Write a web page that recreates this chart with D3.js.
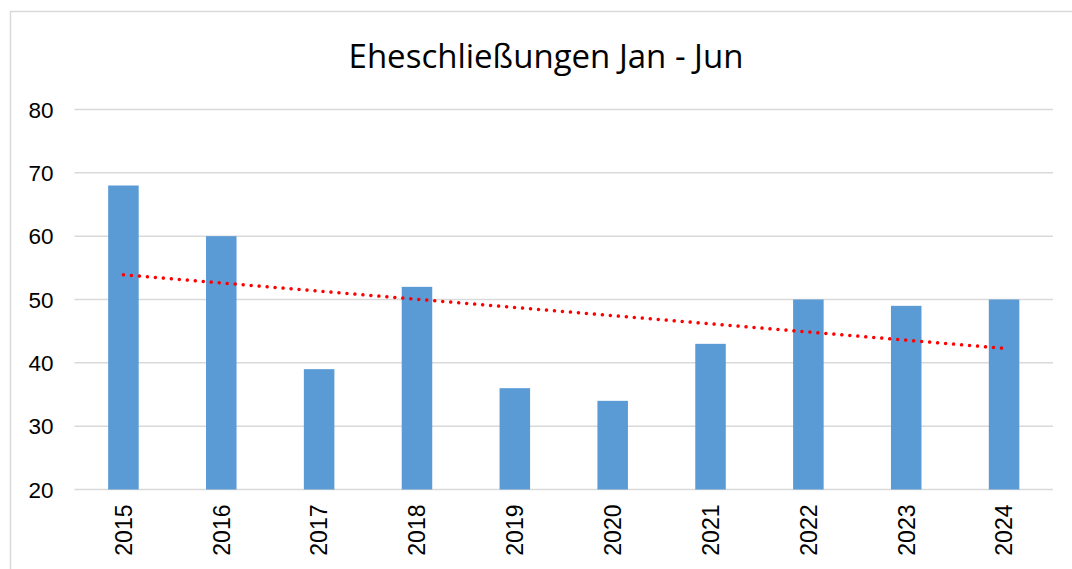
<!DOCTYPE html>
<meta charset="utf-8">
<script src="https://cdnjs.cloudflare.com/ajax/libs/d3/7.8.5/d3.min.js"></script>
<style>
  body { margin: 0; background: #fff; }
</style>
<div id="chart"></div>
<script>
  // data
  const years = ['2015', '2016', '2017', '2018', '2019', '2020', '2021', '2022', '2023', '2024']
  const values = [68, 60, 39, 52, 36, 34, 43, 50, 49, 50]
  const yTicks = [20, 30, 40, 50, 60, 70, 80]
  const title = 'Eheschließungen Jan - Jun'

  const W = 1072, H = 569
  const margin = { top: 109.5, right: 19, bottom: 79.5, left: 74.5 }
  const width = W - margin.left - margin.right
  const height = H - margin.top - margin.bottom

  const svg = d3.select('#chart').append('svg')
    .attr('width', W)
    .attr('height', H)

  // chart area border
  svg.append('rect')
    .attr('x', 10.5).attr('y', 11.5)
    .attr('width', W).attr('height', H)
    .attr('fill', 'none')
    .attr('stroke', '#d9d9d9')
    .attr('stroke-width', 1.5)

  svg.append('text')
    .attr('x', 546).attr('y', 68)
    .attr('text-anchor', 'middle')
    .attr('font-family', 'Open Sans, sans-serif')
    .attr('font-size', 33)
    .attr('fill', '#000')
    .text(title)

  const g = svg.append('g').attr('transform', 'translate(' + margin.left + ',' + margin.top + ')')

  const x = d3.scaleBand().domain(years).range([0, width]).paddingInner(0.688).paddingOuter(0.344)
  const y = d3.scaleLinear().domain([20, 80]).range([height, 0])

  // gridlines
  g.selectAll('.grid').data(yTicks).join('line')
    .attr('x1', 0).attr('x2', width)
    .attr('y1', d => y(d)).attr('y2', d => y(d))
    .attr('stroke', '#d9d9d9')
    .attr('stroke-width', 1.5)

  // y labels
  g.selectAll('.ylab').data(yTicks).join('text')
    .attr('x', -21).attr('y', d => y(d))
    .attr('dy', '0.36em')
    .attr('text-anchor', 'end')
    .attr('font-family', 'Liberation Sans, Arial, sans-serif')
    .attr('font-size', 22.5)
    .attr('fill', '#000')
    .text(d => d)

  // bars
  g.selectAll('.bar').data(values).join('rect')
    .attr('x', (d, i) => x(years[i]))
    .attr('width', x.bandwidth())
    .attr('y', d => y(d))
    .attr('height', d => y(20) - y(d))
    .attr('fill', '#5b9bd5')

  // x labels, rotated
  g.selectAll('.xlab').data(years).join('text')
    .attr('transform', d => 'translate(' + (x(d) + x.bandwidth() / 2) + ',' + (height + 15) + ') rotate(-90)')
    .attr('dy', '0.36em')
    .attr('text-anchor', 'end')
    .attr('font-family', 'Liberation Sans, Arial, sans-serif')
    .attr('font-size', 23)
    .attr('fill', '#000')
    .text(d => d)

  // linear trendline (least squares over category index)
  const n = values.length
  const mx = d3.mean(d3.range(n)), my = d3.mean(values)
  const slope = d3.sum(values, (v, i) => (i - mx) * (v - my)) / d3.sum(d3.range(n), i => (i - mx) * (i - mx))
  const icpt = my - slope * mx
  const trend = [0, n - 1].map(i => ({ x: x(years[i]) + x.bandwidth() / 2, v: icpt + slope * i }))

  g.append('path')
    .datum(trend)
    .attr('fill', 'none')
    .attr('stroke', '#ff0000')
    .attr('stroke-width', 3.5)
    .attr('stroke-linecap', 'round')
    .attr('stroke-dasharray', '0.01 8')
    .attr('d', d3.line().x(d => d.x).y(d => y(d.v)))
</script>
